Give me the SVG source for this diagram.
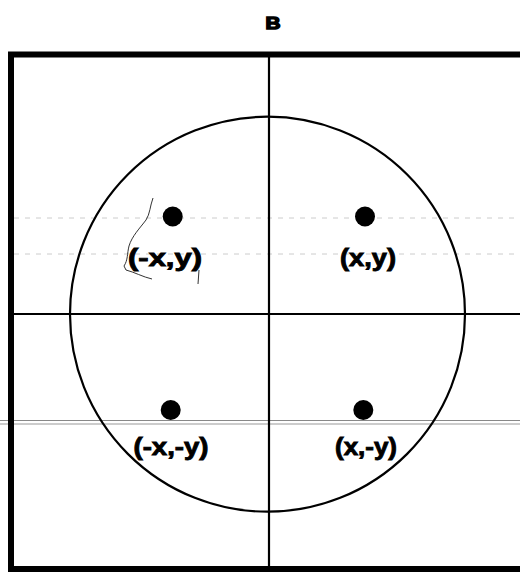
<svg xmlns="http://www.w3.org/2000/svg" width="520" height="572" viewBox="0 0 520 572">
<style>
.lbl{font-family:"Liberation Sans",Arial,sans-serif;font-weight:bold;font-size:24px;fill:#000;stroke:#000;stroke-width:0.9;text-anchor:middle}
.dot{fill:#000}
.axis{stroke:#000;stroke-width:2.2;fill:none}
.faint{stroke:#ccc;stroke-width:1;stroke-dasharray:5 6;fill:none}
</style>
<rect width="520" height="572" fill="#fff"/>
<g id="scan-artifacts">
<line class="faint" x1="14" y1="218" x2="520" y2="218"/>
<line class="faint" x1="14" y1="254" x2="520" y2="254"/>
<line x1="0" y1="420.5" x2="520" y2="420.5" stroke="#888" stroke-width="1.2"/>
<line x1="0" y1="424" x2="520" y2="424" stroke="#999" stroke-width="1.2"/>
<path d="M153 198 C150 206 150 214 146 220 C140 228 132 236 129 246 C127 254 128 260 124 266 L126 270 C134 272 143 277 152 279" fill="none" stroke="#333" stroke-width="1"/>
<path d="M199 270 L198 284" fill="none" stroke="#333" stroke-width="1"/>
</g>
<g id="title">
<text x="273" y="28.5" style="font-family:'Liberation Sans',Arial,sans-serif;font-weight:bold;font-size:16px;text-anchor:middle;stroke:#000;stroke-width:1.4" textLength="15" lengthAdjust="spacingAndGlyphs">B</text>
</g>
<g id="frame">
<rect x="11" y="54.5" width="520" height="514.5" fill="none" stroke="#000" stroke-width="6"/>
</g>
<g id="connectors">
<line class="axis" x1="269" y1="56" x2="269" y2="568"/>
<line class="axis" x1="14" y1="314" x2="520" y2="314"/>
<circle class="axis" cx="267.5" cy="314.2" r="197.5" stroke-width="2.6"/>
</g>
<g id="node-q2">
<circle class="dot" cx="172.7" cy="216.5" r="10"/>
<text class="lbl" x="165" y="266" textLength="74" lengthAdjust="spacingAndGlyphs">(-x,y)</text>
</g>
<g id="node-q1">
<circle class="dot" cx="365" cy="216.5" r="10"/>
<text class="lbl" x="368" y="266" textLength="56" lengthAdjust="spacingAndGlyphs">(x,y)</text>
</g>
<g id="node-q3">
<circle class="dot" cx="170.7" cy="410" r="10"/>
<text class="lbl" x="171" y="455" textLength="75" lengthAdjust="spacingAndGlyphs">(-x,-y)</text>
</g>
<g id="node-q4">
<circle class="dot" cx="363.3" cy="410" r="10"/>
<text class="lbl" x="366" y="455" textLength="62" lengthAdjust="spacingAndGlyphs">(x,-y)</text>
</g>
</svg>
